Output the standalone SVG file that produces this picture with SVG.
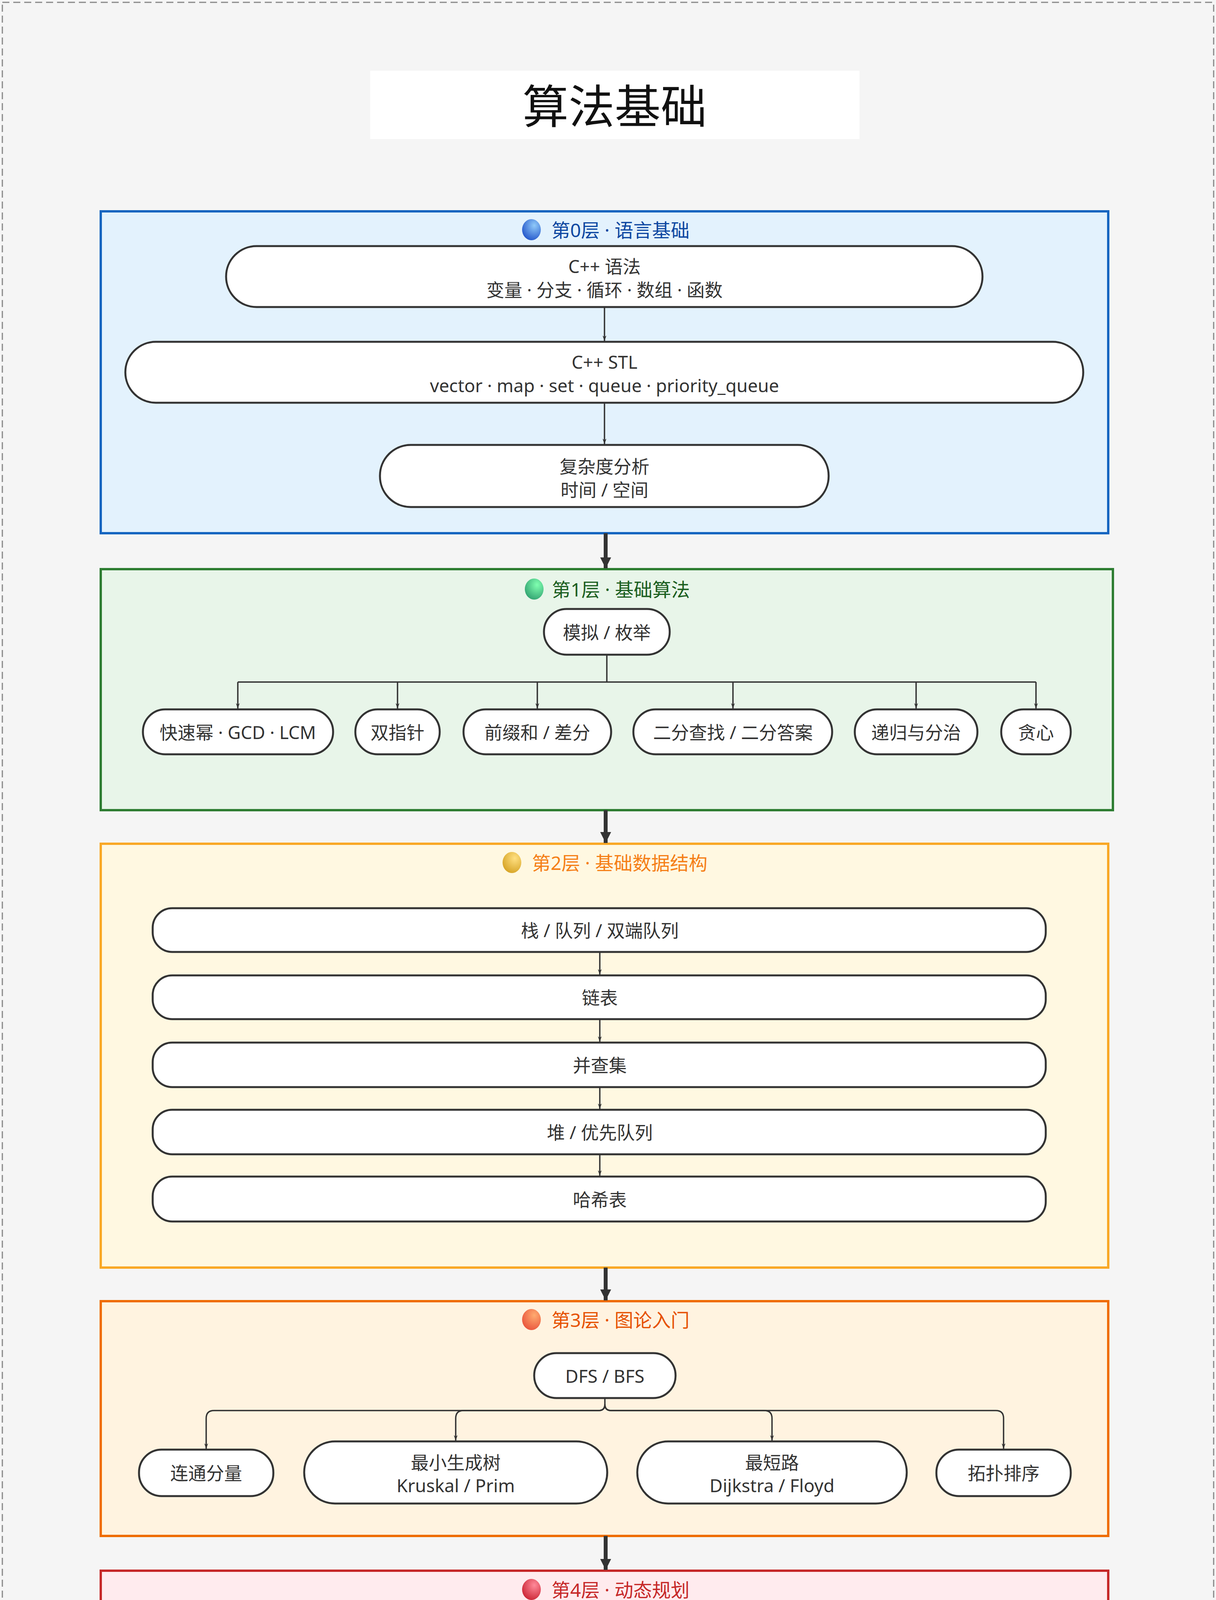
<svg xmlns="http://www.w3.org/2000/svg" width="3114" height="4986" viewBox="0 0 3114 4986">
<style>
text{font-family:"Noto Sans","Noto Sans CJK SC",sans-serif;text-anchor:middle;dominant-baseline:central}
.n{fill:#fff;stroke:#333;stroke-width:5}
.t{font-size:46px;fill:#333}
.lt{font-size:48px}
.c{fill:none;stroke:#333;stroke-width:3.5}
.k{fill:none;stroke:#333;stroke-width:10}
</style>
<defs>
<marker id="a" viewBox="0 0 10 10" refX="10" refY="5" markerWidth="14" markerHeight="14" markerUnits="userSpaceOnUse" orient="auto"><path d="M0,1.5 L10,5 L0,8.5 L3,5 Z" fill="#333"/></marker>
<marker id="ak" viewBox="0 0 10 10" refX="10" refY="5" markerWidth="44" markerHeight="28" markerUnits="userSpaceOnUse" orient="auto"><path d="M0,0 L10,5 L0,10 Z" fill="#333"/></marker>
<radialGradient id="g0" cx="0.65" cy="0.3" r="0.8"><stop offset="0" stop-color="#90caf9"/><stop offset="1" stop-color="#1e50c8"/></radialGradient>
<radialGradient id="g1" cx="0.65" cy="0.3" r="0.8"><stop offset="0" stop-color="#80ffb0"/><stop offset="1" stop-color="#2e9e6e"/></radialGradient>
<radialGradient id="g2" cx="0.65" cy="0.3" r="0.8"><stop offset="0" stop-color="#ffe082"/><stop offset="1" stop-color="#d4a020"/></radialGradient>
<radialGradient id="g3" cx="0.65" cy="0.3" r="0.8"><stop offset="0" stop-color="#ffab70"/><stop offset="1" stop-color="#e8503a"/></radialGradient>
<radialGradient id="g4" cx="0.65" cy="0.3" r="0.8"><stop offset="0" stop-color="#ff8a9a"/><stop offset="1" stop-color="#c8202f"/></radialGradient>
</defs>
<rect x="0" y="0" width="3114" height="4986" fill="#f5f5f5"/>
<rect x="6" y="6" width="3102" height="4974" fill="none" stroke="#888" stroke-width="3" stroke-dasharray="18 10"/>
<g id="title"><rect x="948" y="181" width="1253" height="175" fill="#fff"/><text x="1574" y="270" style="font-size:118px;fill:#111">算法基础</text></g>

<g id="layer0"><rect x="258" y="541" width="2580" height="824" fill="#e3f2fd" stroke="#1565c0" stroke-width="6"/>
<ellipse cx="1361" cy="588" rx="24" ry="27" fill="url(#g0)"/><text class="lt" x="1589" y="588" fill="#0d47a1">第0层 · 语言基础</text></g>
<g id="n_syntax"><rect class="n" x="579" y="630" width="1937" height="156" rx="78"/><text class="t" x="1548" y="681">C++ 语法</text><text class="t" x="1548" y="741">变量 · 分支 · 循环 · 数组 · 函数</text></g>
<g id="n_stl"><rect class="n" x="321" y="875" width="2453" height="156" rx="78"/><text class="t" x="1548" y="926">C++ STL</text><text class="t" x="1548" y="986">vector · map · set · queue · priority_queue</text></g>
<g id="n_cx"><rect class="n" x="973" y="1139" width="1149" height="159" rx="79"/><text class="t" x="1548" y="1193">复杂度分析</text><text class="t" x="1548" y="1253">时间 / 空间</text></g>

<g id="layer1"><rect x="258" y="1457" width="2592" height="617" fill="#e8f5e9" stroke="#2e7d32" stroke-width="6"/>
<ellipse cx="1368" cy="1508" rx="24" ry="27" fill="url(#g1)"/><text class="lt" x="1590" y="1508" fill="#1b5e20">第1层 · 基础算法</text></g>
<g id="n_sim"><rect class="n" x="1393" y="1559" width="322" height="117" rx="58"/><text class="t" x="1554" y="1618">模拟 / 枚举</text></g>
<g id="n_pow"><rect class="n" x="366" y="1816" width="487" height="115" rx="57"/><text class="t" x="609" y="1874">快速幂 · GCD · LCM</text></g>
<g id="n_tp"><rect class="n" x="910" y="1816" width="216" height="115" rx="57"/><text class="t" x="1018" y="1874">双指针</text></g>
<g id="n_pre"><rect class="n" x="1187" y="1816" width="378" height="115" rx="57"/><text class="t" x="1376" y="1874">前缀和 / 差分</text></g>
<g id="n_bin"><rect class="n" x="1622" y="1816" width="509" height="115" rx="57"/><text class="t" x="1877" y="1874">二分查找 / 二分答案</text></g>
<g id="n_rec"><rect class="n" x="2189" y="1816" width="314" height="115" rx="57"/><text class="t" x="2346" y="1874">递归与分治</text></g>
<g id="n_gr"><rect class="n" x="2564" y="1816" width="178" height="115" rx="57"/><text class="t" x="2653" y="1874">贪心</text></g>

<g id="layer2"><rect x="258" y="2160" width="2580" height="1085" fill="#fff8e1" stroke="#f9a825" stroke-width="6"/>
<ellipse cx="1311" cy="2208" rx="24" ry="27" fill="url(#g2)"/><text class="lt" x="1587" y="2208" fill="#f57f17">第2层 · 基础数据结构</text></g>
<g id="n_stack"><rect class="n" x="391" y="2325" width="2287" height="112" rx="50"/><text class="t" x="1536" y="2381">栈 / 队列 / 双端队列</text></g>
<g id="n_list"><rect class="n" x="391" y="2497" width="2287" height="112" rx="50"/><text class="t" x="1536" y="2553">链表</text></g>
<g id="n_dsu"><rect class="n" x="391" y="2669" width="2287" height="114" rx="50"/><text class="t" x="1536" y="2726">并查集</text></g>
<g id="n_heap"><rect class="n" x="391" y="2841" width="2287" height="114" rx="50"/><text class="t" x="1536" y="2898">堆 / 优先队列</text></g>
<g id="n_hash"><rect class="n" x="391" y="3012" width="2287" height="115" rx="50"/><text class="t" x="1536" y="3070">哈希表</text></g>

<g id="layer3"><rect x="258" y="3331" width="2580" height="601" fill="#fff3e0" stroke="#ef6c00" stroke-width="6"/>
<ellipse cx="1361" cy="3378" rx="24" ry="27" fill="url(#g3)"/><text class="lt" x="1589" y="3378" fill="#e65100">第3层 · 图论入门</text></g>
<g id="n_dfs"><rect class="n" x="1368" y="3464" width="362" height="115" rx="57"/><text class="t" x="1549" y="3522">DFS / BFS</text></g>
<g id="n_cc"><rect class="n" x="356" y="3711" width="344" height="119" rx="58"/><text class="t" x="528" y="3770">连通分量</text></g>
<g id="n_mst"><rect class="n" x="779" y="3690" width="776" height="159" rx="79"/><text class="t" x="1167" y="3743">最小生成树</text><text class="t" x="1167" y="3802">Kruskal / Prim</text></g>
<g id="n_sp"><rect class="n" x="1632" y="3690" width="690" height="159" rx="79"/><text class="t" x="1977" y="3743">最短路</text><text class="t" x="1977" y="3802">Dijkstra / Floyd</text></g>
<g id="n_topo"><rect class="n" x="2398" y="3711" width="344" height="119" rx="58"/><text class="t" x="2570" y="3770">拓扑排序</text></g>

<g id="layer4"><rect x="258" y="4021" width="2580" height="789" fill="#ffebee" stroke="#c62828" stroke-width="6"/>
<ellipse cx="1361" cy="4069" rx="24" ry="27" fill="url(#g4)"/><text class="lt" x="1589" y="4069" fill="#c62828">第4层 · 动态规划</text></g>
<g id="n_memo"><rect class="n" x="1298" y="4139" width="499" height="159" rx="79"/><text class="t" x="1548" y="4219">记忆化搜索</text></g>
<g id="n_bag"><rect class="n" x="309" y="4466" width="435" height="156" rx="78"/><text class="t" x="527" y="4546">背包系列</text></g>
<g id="n_itv"><rect class="n" x="846" y="4466" width="436" height="156" rx="78"/><text class="t" x="1064" y="4546">区间DP</text></g>
<g id="n_dig"><rect class="n" x="1330" y="4466" width="435" height="156" rx="78"/><text class="t" x="1548" y="4546">数位DP</text></g>
<g id="n_tree"><rect class="n" x="1851" y="4466" width="436" height="156" rx="78"/><text class="t" x="2069" y="4546">树形DP</text></g>
<g id="n_sta"><rect class="n" x="2351" y="4466" width="439" height="156" rx="78"/><text class="t" x="2570" y="4546">简单状压DP</text></g>

<g id="connectors">
<path class="c" marker-end="url(#a)" d="M1548,786 V873"/>
<path class="c" marker-end="url(#a)" d="M1548,1031 V1137"/>
<path class="k" marker-end="url(#ak)" d="M1551,1365 V1455"/>
<path class="c" d="M1554,1676 V1746 M609,1746 H2653"/>
<path class="c" marker-end="url(#a)" d="M609,1746 V1814"/>
<path class="c" marker-end="url(#a)" d="M1018,1746 V1814"/>
<path class="c" marker-end="url(#a)" d="M1376,1746 V1814"/>
<path class="c" marker-end="url(#a)" d="M1877,1746 V1814"/>
<path class="c" marker-end="url(#a)" d="M2346,1746 V1814"/>
<path class="c" marker-end="url(#a)" d="M2653,1746 V1814"/>
<path class="k" marker-end="url(#ak)" d="M1551,2074 V2158"/>
<path class="c" marker-end="url(#a)" d="M1536,2437 V2495"/>
<path class="c" marker-end="url(#a)" d="M1536,2609 V2667"/>
<path class="c" marker-end="url(#a)" d="M1536,2783 V2839"/>
<path class="c" marker-end="url(#a)" d="M1536,2955 V3010"/>
<path class="k" marker-end="url(#ak)" d="M1551,3245 V3329"/>
<path class="c" marker-end="url(#a)" d="M1549,3579 V3595 Q1549,3611 1533,3611 H548 Q528,3611 528,3631 V3709"/>
<path class="c" marker-end="url(#a)" d="M1549,3595 Q1549,3611 1533,3611 H1187 Q1167,3611 1167,3631 V3688"/>
<path class="c" marker-end="url(#a)" d="M1549,3595 Q1549,3611 1565,3611 H1957 Q1977,3611 1977,3631 V3688"/>
<path class="c" marker-end="url(#a)" d="M1549,3595 Q1549,3611 1565,3611 H2550 Q2570,3611 2570,3631 V3709"/>
<path class="k" marker-end="url(#ak)" d="M1551,3932 V4019"/>
<path class="c" d="M1548,4298 V4406 M527,4406 H2570"/>
<path class="c" marker-end="url(#a)" d="M527,4406 V4464"/>
<path class="c" marker-end="url(#a)" d="M1064,4406 V4464"/>
<path class="c" marker-end="url(#a)" d="M1548,4406 V4464"/>
<path class="c" marker-end="url(#a)" d="M2069,4406 V4464"/>
<path class="c" marker-end="url(#a)" d="M2570,4406 V4464"/>
</g>
</svg>
